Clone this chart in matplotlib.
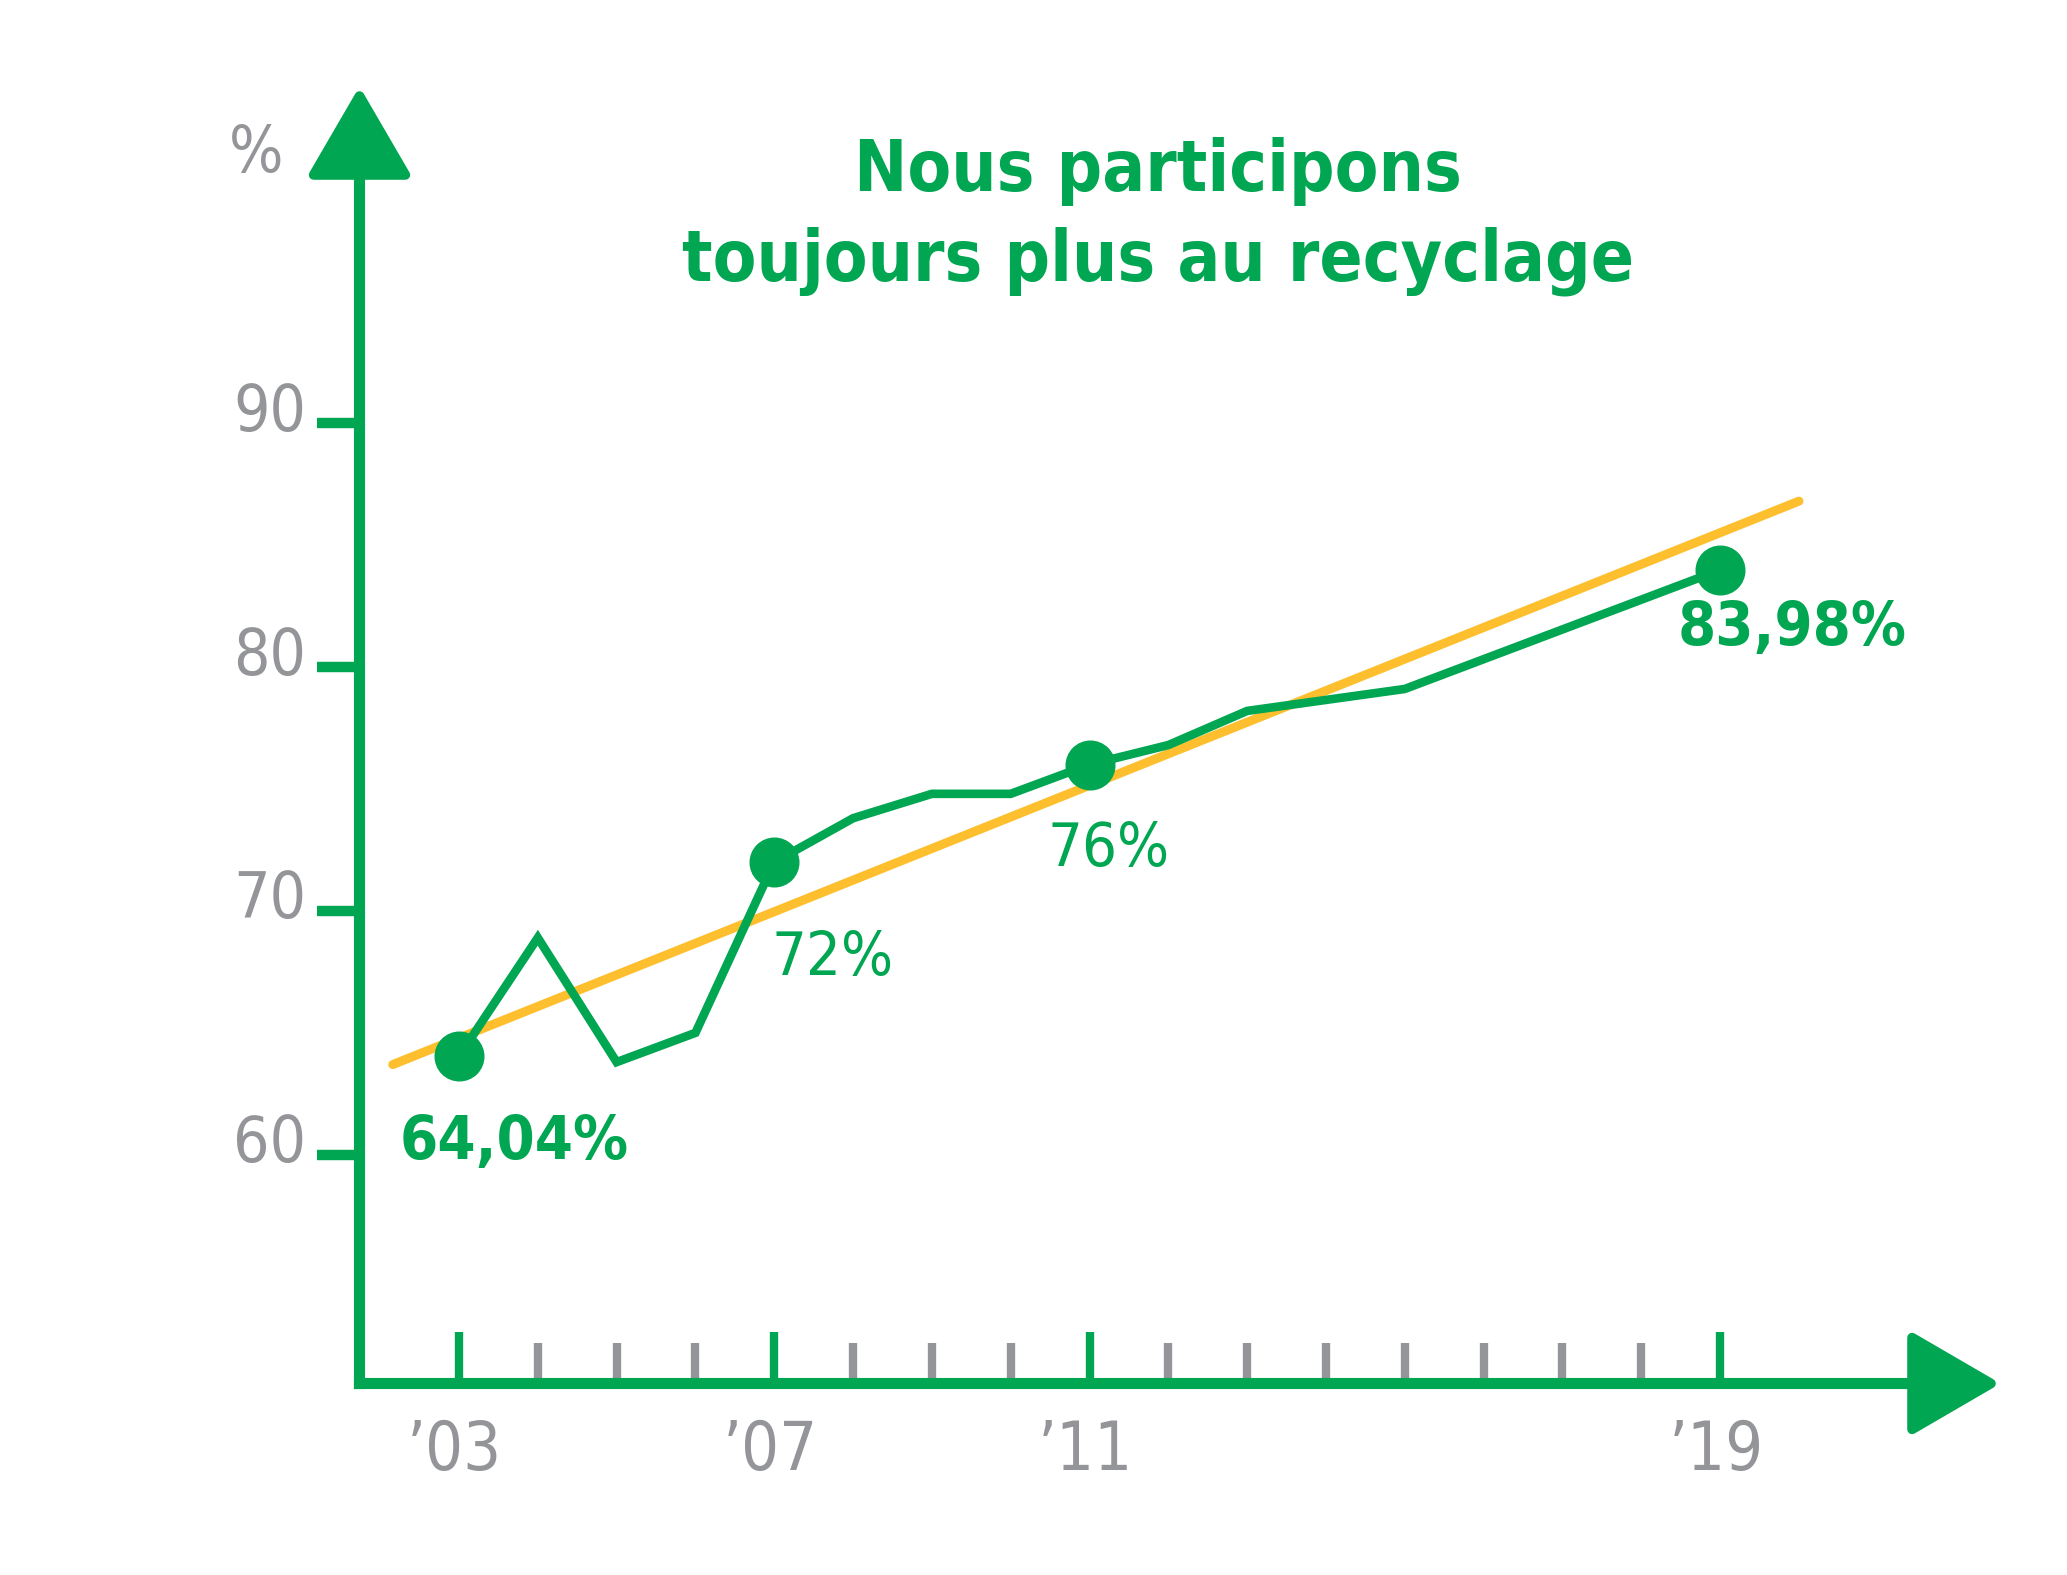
import matplotlib
matplotlib.use('Agg')
import matplotlib.pyplot as plt
from matplotlib.markers import MarkerStyle
from matplotlib.path import Path

# recycling rate per year (the line skips 2014 and 2016-2018)
years = [2003, 2004, 2005, 2006, 2007, 2008, 2009, 2010, 2011, 2012, 2013, 2015, 2019]
rates = [64.04, 68.9, 63.8, 65.0, 72.0, 73.8, 74.8, 74.8, 76.0, 76.8, 78.2, 79.1, 83.98]

marked_years = [2003, 2007, 2011, 2019]
marked_rates = [64.04, 72.0, 76.0, 83.98]
marked_labels = ['64,04%', '72%', '76%', '83,98%']
marked_bold = [True, False, False, True]

trend_years = [2002.16, 2020.0]
trend_rates = [63.7, 86.8]

tick_years = list(range(2003, 2020))
major_years = [2003, 2007, 2011, 2019]
year_labels = ['\u201903', '\u201907', '\u201911', '\u201919']
y_ticks = [60, 70, 80, 90]
y_labels = ['60', '70', '80', '90']

GREEN = '#00A651'
YELLOW = '#FDBF2D'
GRAY = '#939598'

plt.rcParams['font.family'] = ['DejaVu Sans']
plt.rcParams['font.stretch'] = 'condensed'

fig = plt.figure(figsize=(20.67, 15.75), dpi=100)
ax = fig.add_axes([0, 0, 1, 1])
ax.set_xlim(1997.177, 2023.401)
ax.set_ylim(42.772, 107.347)

y_axis_x = 2001.73
x_axis_y = 50.656
y_axis_top = 100.05
x_axis_end = 2021.41

for side in ['top', 'right']:
    ax.spines[side].set_visible(False)
ax.spines['left'].set_position(('data', y_axis_x))
ax.spines['left'].set_bounds(x_axis_y, y_axis_top)
ax.spines['bottom'].set_position(('data', x_axis_y))
ax.spines['bottom'].set_bounds(y_axis_x, x_axis_end)
for side in ['left', 'bottom']:
    ax.spines[side].set_color(GREEN)
    ax.spines[side].set_linewidth(8)
    ax.spines[side].set_capstyle('projecting')

ax.set_yticks(y_ticks)
ax.tick_params(axis='y', direction='out', length=30, width=7.5, color=GREEN,
               labelleft=False)
ax.set_xticks(major_years)
ax.set_xticks([y for y in tick_years if y not in major_years], minor=True)
ax.tick_params(axis='x', which='major', direction='in', length=37, width=6,
               color=GREEN, labelbottom=False)
ax.tick_params(axis='x', which='minor', direction='in', length=29, width=6,
               color=GRAY, labelbottom=False)

# arrow heads (closed triangles with rounded corners)
up_path = Path([(-0.5, -0.43), (0.5, -0.43), (0, 0.43), (-0.5, -0.43)], closed=True)
right_path = Path([(-0.43, -0.5), (-0.43, 0.5), (0.43, 0), (-0.43, -0.5)], closed=True)
up = MarkerStyle(up_path, joinstyle='round')
right = MarkerStyle(right_path, joinstyle='round')
ax.plot([y_axis_x], [101.81], marker=up, ms=66, mew=7, color=GREEN, clip_on=False)
ax.plot([2021.93], [x_axis_y], marker=right, ms=66, mew=7, color=GREEN, clip_on=False)

# tick labels
for v, t in zip(y_ticks, y_labels):
    ax.annotate(t, xy=(y_axis_x, v), xytext=(-38, -5.4), textcoords='offset points',
                ha='right', va='baseline', fontsize=46, color=GRAY)
for yr, t in zip(major_years, year_labels):
    ax.annotate(t, xy=(yr, x_axis_y), xytext=(-3, -63), textcoords='offset points',
                ha='center', va='baseline', fontsize=48, color=GRAY)
fig.text(0.1239, 0.9022, '%', ha='center', va='center', fontsize=46, color=GRAY)

# trend and series
ax.plot(trend_years, trend_rates, color=YELLOW, lw=6.5, solid_capstyle='round', zorder=3)
ax.plot(years, rates, color=GREEN, lw=6.2, solid_joinstyle='miter', zorder=4)
ax.plot(marked_years, marked_rates, 'o', color=GREEN, ms=35, zorder=5)

offsets = [(40, -74), (42, -81), (13.5, -73), (52, -54)]
for yr, v, t, b, off in zip(marked_years, marked_rates, marked_labels, marked_bold, offsets):
    ax.annotate(t, xy=(yr, v), xytext=off, textcoords='offset points',
                ha='center', va='baseline', fontsize=44, color=GREEN,
                fontweight='bold' if b else 'normal')

fig.text(0.5602, 0.8914, 'Nous participons', ha='center', va='center',
         fontsize=51, fontweight='bold', color=GREEN)
fig.text(0.5602, 0.8343, 'toujours plus au recyclage', ha='center', va='center',
         fontsize=51, fontweight='bold', color=GREEN)

fig.savefig('out.png', dpi=100)
